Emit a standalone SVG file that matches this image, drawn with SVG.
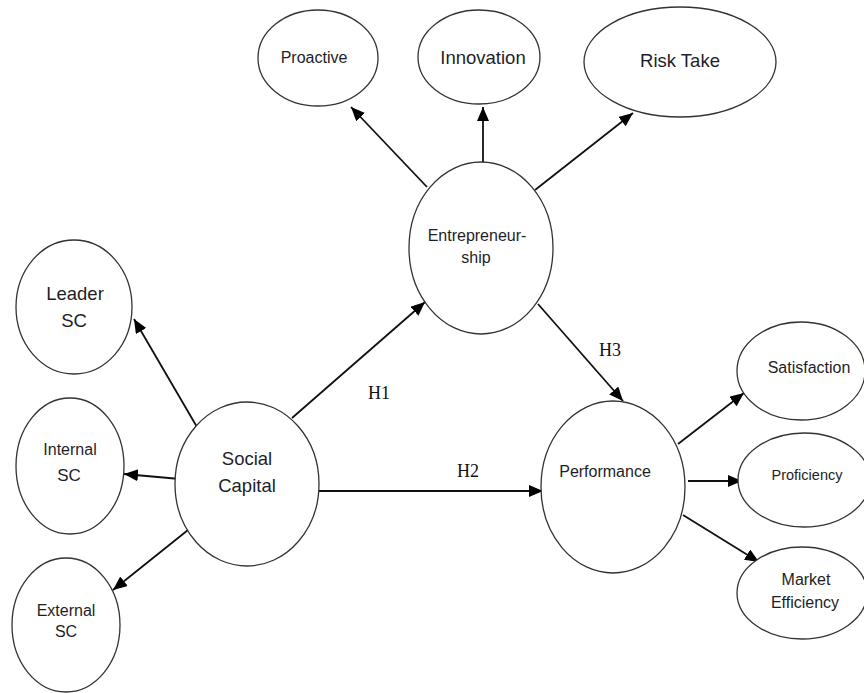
<svg xmlns="http://www.w3.org/2000/svg" width="864" height="693" viewBox="0 0 864 693">
<style>
.n{fill:#fff;stroke:#333;stroke-width:1.3}
.t{font-family:"Liberation Sans",Arial,sans-serif;fill:#1e1e28;text-anchor:middle}
.h{font-family:"Liberation Serif","Times New Roman",serif;fill:#111;text-anchor:middle;font-size:18px}
.c{stroke:#111;stroke-width:1.8;fill:none;marker-end:url(#ah)}
</style>
<defs>
<marker id="ah" markerUnits="userSpaceOnUse" markerWidth="16" markerHeight="14" refX="14" refY="6" orient="auto">
<path d="M0,0 L14,6 L0,12 z" fill="#000"/>
</marker>
</defs>
<rect width="864" height="693" fill="#fff"/>
<g id="connectors">
<line class="c" x1="427" y1="187" x2="351" y2="107"/>
<line class="c" x1="483" y1="163" x2="483" y2="107"/>
<line class="c" x1="535" y1="190" x2="633" y2="113"/>
<line class="c" x1="292" y1="418" x2="425" y2="302"/>
<line class="c" x1="318" y1="491" x2="543" y2="491"/>
<line class="c" x1="538" y1="304" x2="623" y2="401"/>
<line class="c" x1="197" y1="427" x2="134" y2="319"/>
<line class="c" x1="180" y1="479" x2="124" y2="474"/>
<line class="c" x1="188" y1="530" x2="113" y2="590"/>
<line class="c" x1="678" y1="444" x2="744" y2="393"/>
<line class="c" x1="688" y1="481" x2="742" y2="481"/>
<line class="c" x1="683" y1="515" x2="759" y2="562"/>
</g>
<g id="proactive"><ellipse class="n" cx="318" cy="58" rx="60" ry="48"/><text class="t" x="314" y="63" font-size="16">Proactive</text></g>
<g id="innovation"><ellipse class="n" cx="479" cy="57" rx="61" ry="47"/><text class="t" x="483" y="64" font-size="18.5">Innovation</text></g>
<g id="risktake"><ellipse class="n" cx="680" cy="62" rx="96" ry="55"/><text class="t" x="680" y="67" font-size="18.5">Risk Take</text></g>
<g id="entrepreneurship"><ellipse class="n" cx="481" cy="248" rx="72" ry="86"/><text class="t" x="477" y="241" font-size="16">Entrepreneur-</text><text class="t" x="476" y="263" font-size="16">ship</text></g>
<g id="leadersc"><ellipse class="n" cx="74" cy="307" rx="58" ry="67"/><text class="t" x="75" y="300" font-size="18.5">Leader</text><text class="t" x="74" y="327" font-size="18.5">SC</text></g>
<g id="internalsc"><ellipse class="n" cx="70" cy="466" rx="54" ry="68"/><text class="t" x="70" y="455" font-size="16">Internal</text><text class="t" x="69" y="481" font-size="17">SC</text></g>
<g id="externalsc"><ellipse class="n" cx="66" cy="625" rx="54" ry="67"/><text class="t" x="66" y="616" font-size="16">External</text><text class="t" x="66" y="637" font-size="16">SC</text></g>
<g id="socialcapital"><ellipse class="n" cx="247" cy="484" rx="72" ry="82"/><text class="t" x="247" y="465" font-size="18.5">Social</text><text class="t" x="247" y="492" font-size="18.5">Capital</text></g>
<g id="performance"><ellipse class="n" cx="613" cy="487" rx="72" ry="86"/><text class="t" x="605" y="477" font-size="16">Performance</text></g>
<g id="satisfaction"><ellipse class="n" cx="801" cy="371" rx="64" ry="49"/><text class="t" x="809" y="373" font-size="16">Satisfaction</text></g>
<g id="proficiency"><ellipse class="n" cx="804" cy="480" rx="66" ry="47"/><text class="t" x="807" y="480" font-size="14.5">Proficiency</text></g>
<g id="marketefficiency"><ellipse class="n" cx="802" cy="593" rx="65" ry="46"/><text class="t" x="806" y="585" font-size="16">Market</text><text class="t" x="805" y="608" font-size="16">Efficiency</text></g>
<g id="labels">
<text class="h" x="379" y="399">H1</text>
<text class="h" x="468" y="477">H2</text>
<text class="h" x="610" y="356">H3</text>
</g>
</svg>
